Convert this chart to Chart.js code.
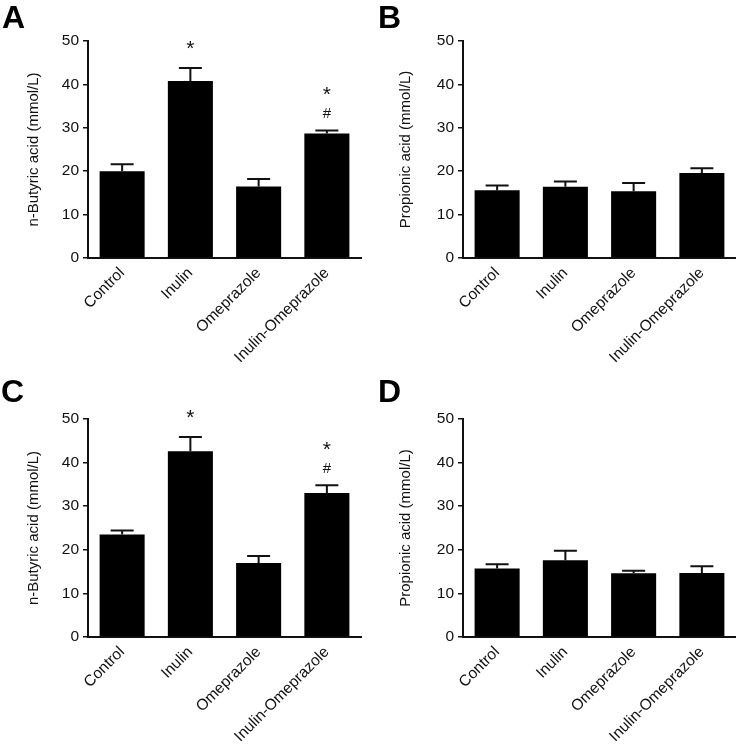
<!DOCTYPE html>
<html>
<head>
<meta charset="utf-8">
<script src="https://cdn.jsdelivr.net/npm/chart.js@4.4.1/dist/chart.umd.min.js"></script>
<style>
  body { margin: 0; background: #fff; width: 736px; height: 744px; position: relative; overflow: hidden; font-family: 'Liberation Sans', Arial, sans-serif; }
  .panel { position: absolute; width: 368px; height: 372px; }
  .panel canvas { position: absolute; left: 0; top: 0; }
  .tag { position: absolute; font-weight: bold; font-size: 32px; line-height: 1; color: #000; }
</style>
</head>
<body>
<div class="panel" style="left:0;top:0"><canvas id="chartA" width="368" height="372"></canvas><div class="tag" style="left:2px;top:1px">A</div></div>
<div class="panel" style="left:368px;top:0"><canvas id="chartB" width="368" height="372"></canvas><div class="tag" style="left:10px;top:1px">B</div></div>
<div class="panel" style="left:0;top:372px"><canvas id="chartC" width="368" height="372"></canvas><div class="tag" style="left:1px;top:3px">C</div></div>
<div class="panel" style="left:368px;top:372px"><canvas id="chartD" width="368" height="372"></canvas><div class="tag" style="left:10px;top:3px">D</div></div>
<script>
// groupes
const groups = ['Control', 'Inulin', 'Omeprazole', 'Inulin-Omeprazole'];
const yTicks = [0, 10, 20, 30, 40, 50];

// A : acide n-butyrique
const butyricA = [20.0, 40.8, 16.5, 28.7];
const butyricErrA = [1.6, 3.0, 1.7, 0.7];
const marksA = [[], ['*'], [], ['#', '*']];

// B : acide propionique
const propionicB = [15.6, 16.4, 15.4, 19.6];
const propionicErrB = [1.1, 1.2, 1.9, 1.1];
const marksB = [[], [], [], []];

// C : acide n-butyrique
const butyricC = [23.5, 42.6, 17.0, 33.0];
const butyricErrC = [0.9, 3.3, 1.6, 1.8];
const marksC = [[], ['*'], [], ['#', '*']];

// D : acide propionique
const propionicD = [15.7, 17.6, 14.6, 14.7];
const propionicErrD = [1.0, 2.2, 0.6, 1.5];
const marksD = [[], [], [], []];

const FONT = "'Liberation Sans', Arial, sans-serif";
const INK = '#111';

// barres d'erreur (SEM, seulement vers le haut) + marques de significativité
const errorBars = {
  id: 'errorBars',
  afterDatasetsDraw(chart, args, opts) {
    const ctx = chart.ctx;
    const y = chart.scales.y;
    const vals = chart.data.datasets[0].data;
    ctx.save();
    ctx.strokeStyle = INK;
    ctx.fillStyle = INK;
    ctx.lineWidth = 2;
    ctx.textAlign = 'center';
    ctx.textBaseline = 'alphabetic';
    chart.getDatasetMeta(0).data.forEach((bar, i) => {
      const top = y.getPixelForValue(vals[i] + opts.err[i]);
      ctx.beginPath();
      ctx.moveTo(bar.x, bar.y);
      ctx.lineTo(bar.x, top);
      ctx.moveTo(bar.x - 11.5, top);
      ctx.lineTo(bar.x + 11.5, top);
      ctx.stroke();
      let base = top;
      (opts.marks[i] || []).forEach((m, k) => {
        base -= k === 0 ? (m === '*' ? 12.7 : 12.4) : 17.3;
        ctx.font = (m === '*' ? '21px ' : '15px ') + FONT;
        ctx.fillText(m, bar.x, base);
      });
    });
    ctx.restore();
  }
};

function makeChart(id, values, errs, marks, yTitle, box) {
  new Chart(document.getElementById(id), {
    type: 'bar',
    data: {
      labels: groups,
      datasets: [{
        data: values,
        backgroundColor: '#000',
        borderWidth: 0,
        categoryPercentage: 1,
        barPercentage: 0.66
      }]
    },
    options: {
      responsive: false,
      animation: false,
      layout: { padding: { left: 0, right: box.right, top: box.top, bottom: 0 } },
      plugins: {
        legend: { display: false },
        tooltip: { enabled: false },
        errorBars: { err: errs, marks: marks }
      },
      scales: {
        x: {
          offset: true,
          grid: { display: false, drawTicks: false },
          border: { display: true, color: INK, width: 2 },
          ticks: { color: INK, font: { size: 15.5, family: FONT }, minRotation: 45, maxRotation: 45, autoSkip: false, padding: 6 },
          afterFit: s => { s.height = box.xh; }
        },
        y: {
          min: yTicks[0],
          max: yTicks[yTicks.length - 1],
          afterBuildTicks: s => { s.ticks = yTicks.map(v => ({ value: v })); },
          ticks: { color: INK, font: { size: 15.5, family: FONT }, padding: 4 },
          grid: { drawOnChartArea: false, drawTicks: true, tickLength: 5, color: INK, lineWidth: 1.5 },
          border: { display: true, color: INK, width: 2 },
          title: { display: true, text: yTitle, color: INK, font: { size: 15, family: FONT }, padding: { top: box.tp, bottom: 0 } },
          afterFit: s => { s.width = box.left; }
        }
      }
    },
    plugins: [errorBars]
  });
}

makeChart('chartA', butyricA, butyricErrA, marksA, 'n-Butyric acid (mmol/L)', { left: 88, right: 7, top: 41, xh: 114, tp: 24.5 });
makeChart('chartB', propionicB, propionicErrB, marksB, 'Propionic acid (mmol/L)', { left: 95, right: 0, top: 41, xh: 114, tp: 28.5 });
makeChart('chartC', butyricC, butyricErrC, marksC, 'n-Butyric acid (mmol/L)', { left: 88, right: 7, top: 47, xh: 107, tp: 24.5 });
makeChart('chartD', propionicD, propionicErrD, marksD, 'Propionic acid (mmol/L)', { left: 95, right: 0, top: 47, xh: 107, tp: 28.5 });
</script>
</body>
</html>
